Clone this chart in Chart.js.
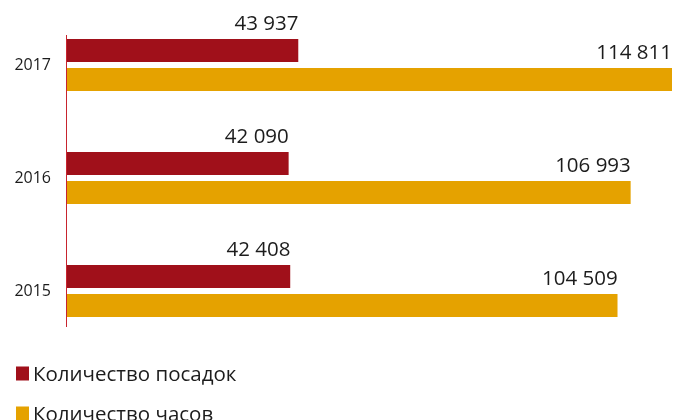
<!DOCTYPE html>
<html>
<head>
<meta charset="utf-8">
<script src="https://cdn.jsdelivr.net/npm/chart.js@4.4.0/dist/chart.umd.min.js"></script>
<style>
  html, body { margin: 0; padding: 0; background: #ffffff; }
  #wrap { width: 673px; height: 420px; position: relative; }
</style>
</head>
<body>
<div id="wrap"><canvas id="c" width="673" height="420"></canvas></div>
<script>
const categories = ['2017', '2016', '2015'];
const landings = [43937, 42090, 42408];
const hours = [114811, 106993, 104509];
const seriesNames = ['Количество посадок', 'Количество часов'];
const xMax = 115000;

const RED = '#a0101a';
const GOLD = '#e5a200';
const TEXT = '#1c1c1c';
const FONT = "'Open Sans', 'Noto Sans', sans-serif";

function fmt(v) {
  return String(v).replace(/\B(?=(\d{3})+(?!\d))/g, ' ');
}

const axisLinePlugin = {
  id: 'axisLine',
  afterDatasetsDraw(chart) {
    const { ctx, chartArea, scales } = chart;
    const y = scales.y;
    const top = y.getPixelForValue(0) - 30;
    const bottom = y.getPixelForValue(categories.length - 1) + 36;
    ctx.save();
    ctx.strokeStyle = '#c8242e';
    ctx.lineWidth = 1;
    ctx.beginPath();
    ctx.moveTo(chartArea.left - 0.5, top);
    ctx.lineTo(chartArea.left - 0.5, bottom);
    ctx.stroke();
    ctx.restore();
  }
};

const valueLabelPlugin = {
  id: 'valueLabels',
  afterDatasetsDraw(chart) {
    const { ctx } = chart;
    ctx.save();
    ctx.font = '20.5px ' + FONT;
    ctx.fillStyle = TEXT;
    ctx.textAlign = 'right';
    ctx.textBaseline = 'middle';
    chart.data.datasets.forEach((ds, di) => {
      const meta = chart.getDatasetMeta(di);
      meta.data.forEach((el, i) => {
        ctx.fillText(fmt(ds.data[i]), el.x, el.y - 26);
      });
    });
    ctx.restore();
  }
};

const legendPlugin = {
  id: 'stackedLegend',
  afterDraw(chart) {
    const { ctx, chartArea } = chart;
    ctx.save();
    ctx.font = '20.5px ' + FONT;
    ctx.textAlign = 'left';
    ctx.textBaseline = 'alphabetic';
    chart.data.datasets.forEach((ds, i) => {
      const top = chartArea.bottom + 19 + i * 40;
      ctx.fillStyle = ds.backgroundColor;
      ctx.fillRect(16, top, 13, 14);
      ctx.fillStyle = TEXT;
      ctx.fillText(ds.label, 33, top + 14);
    });
    ctx.restore();
  }
};

new Chart(document.getElementById('c'), {
  type: 'bar',
  data: {
    labels: categories,
    datasets: [
      {
        label: seriesNames[0],
        data: landings,
        backgroundColor: RED,
        borderColor: '#ffffff',
        borderWidth: { top: 3, bottom: 3, left: 0, right: 0 },
        borderSkipped: false
      },
      {
        label: seriesNames[1],
        data: hours,
        backgroundColor: GOLD,
        borderColor: '#ffffff',
        borderWidth: { top: 3, bottom: 3, left: 0, right: 0 },
        borderSkipped: false
      }
    ]
  },
  options: {
    indexAxis: 'y',
    responsive: false,
    animation: false,
    devicePixelRatio: 1,
    layout: { padding: { top: 8.5, bottom: 72.5, left: 0, right: 0 } },
    categoryPercentage: 0.513,
    barPercentage: 1,
    plugins: {
      legend: { display: false },
      tooltip: { enabled: false }
    },
    scales: {
      x: {
        display: false,
        min: 0,
        max: xMax
      },
      y: {
        grid: { display: false, drawTicks: true, tickLength: 16 },
        border: { display: false },
        ticks: {
          color: TEXT,
          font: { family: FONT, size: 16, lineHeight: 1 },
          padding: 0
        },
        afterFit(s) { s.width = 67; }
      }
    }
  },
  plugins: [axisLinePlugin, valueLabelPlugin, legendPlugin]
});
</script>
</body>
</html>
